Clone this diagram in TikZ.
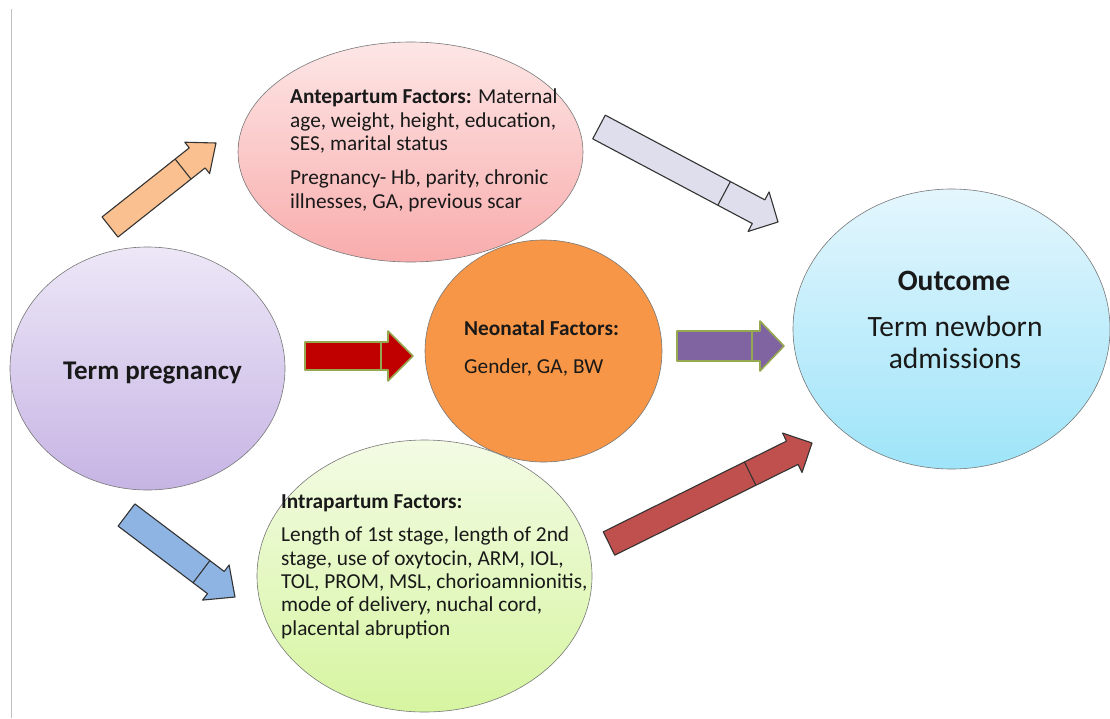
\documentclass[tikz,border=0pt]{standalone}
\usepackage{fontspec}
\setmainfont{Carlito}
\usetikzlibrary{calc,shapes.geometric}
\definecolor{txt}{RGB}{25,25,25}
\definecolor{edge}{RGB}{120,120,120}
\definecolor{termT}{RGB}{237,231,247}
\definecolor{termB}{RGB}{198,180,228}
\definecolor{anteT}{RGB}{253,230,230}
\definecolor{anteB}{RGB}{249,172,172}
\definecolor{neoF}{RGB}{247,150,70}
\definecolor{intraT}{RGB}{243,251,228}
\definecolor{intraB}{RGB}{214,245,160}
\definecolor{outT}{RGB}{228,246,253}
\definecolor{outB}{RGB}{158,228,249}
\definecolor{arOrange}{RGB}{250,192,143}
\definecolor{arGray}{RGB}{222,222,236}
\definecolor{arRed}{RGB}{192,0,0}
\definecolor{arPurple}{RGB}{128,100,162}
\definecolor{arBlue}{RGB}{142,180,227}
\definecolor{arDark}{RGB}{192,80,77}
\definecolor{glow}{RGB}{150,168,80}
\newcommand{\blockarrow}[7]{%
  \coordinate (#1-h) at ($(#2)!#5!(#1)$);
  \coordinate (#1-d) at ($(#2)!#6!(#1)$);
  \draw[#7] ($(#1)!#3!90:(#2)$) -- ($(#1-h)!#3!90:(#2)$) -- ($(#1-h)!#4!90:(#2)$) -- (#2)
     -- ($(#1-h)!#4!-90:(#2)$) -- ($(#1-h)!#3!-90:(#2)$) -- ($(#1)!#3!-90:(#2)$) -- cycle;
  \draw[#7,fill=none] ($(#1-d)!#3!90:(#2)$) -- ($(#1-d)!#3!-90:(#2)$);
}
\tikzset{
  blob/.style={ellipse, draw=edge, line width=0.6pt, inner sep=0pt},
  bodytext/.style={text=txt, font=\fontsize{21.3}{23.3}\selectfont, align=left, inner sep=0pt, anchor=base west},
  darkarrow/.style={draw=black!80, line width=1.1pt, line join=round},
  glowarrow/.style={draw=glow, line width=1.6pt, line join=round},
}
\begin{document}
\begin{tikzpicture}[x=1pt,y=-1pt]
\useasboundingbox (0,0) rectangle (1110,718);
\fill[white] (0,0) rectangle (1110,718);
\draw[black!25, line width=1pt] (11,9) -- (11,718);

% ellipses
\node[blob, top color=termT, bottom color=termB, minimum width=275pt, minimum height=243pt] (term) at (147.5,368.5) {};
\node[blob, top color=anteT, bottom color=anteB, minimum width=345pt, minimum height=220pt] (ante) at (410.5,152) {};
\node[blob, fill=neoF, minimum width=237pt, minimum height=222pt] (neo) at (543.5,351) {};
\node[blob, top color=intraT, bottom color=intraB, minimum width=335pt, minimum height=272pt] (intra) at (424.5,576) {};
\node[blob, top color=outT, bottom color=outB, minimum width=317pt, minimum height=280pt] (out) at (951.5,329) {};

% texts (base anchor = baseline of the last line)
\node[text=txt, font=\fontsize{27}{30}\selectfont\bfseries, inner sep=0pt, anchor=base] (termtxt) at (152.5,379) {Term pregnancy};
\node[bodytext] (antetxt) at (290,208) {\textbf{Antepartum Factors:} Maternal\\ age, weight, height, education,\\ SES, marital status\\[11pt] Pregnancy- Hb, parity, chronic\\ illnesses, GA, previous scar};
\node[bodytext] (neotxt) at (464,373) {\textbf{Neonatal Factors:}\\[14pt] Gender, GA, BW};
\node[bodytext] (intratxt) at (281,635) {\textbf{Intrapartum Factors:}\\[10.5pt] Length of 1st stage, length of 2nd\\ stage, use of oxytocin, ARM, IOL,\\ TOL, PROM, MSL, chorioamnionitis,\\ mode of delivery, nuchal cord,\\ placental abruption};
\node[text=txt, font=\fontsize{29.5}{30}\selectfont\bfseries, inner sep=0pt, anchor=base] (outtitle) at (954,290) {Outcome};
\node[text=txt, font=\fontsize{29.5}{31.5}\selectfont, align=center, inner sep=0pt, anchor=base] (outtxt) at (955,368) {Term newborn\\ admissions};

% arrow end points
\coordinate (oa) at (110,227);   \coordinate (oaT) at (216,143);
\coordinate (ga) at (599,127);   \coordinate (gaT) at (778,222);
\coordinate (ra) at (305,356);   \coordinate (raT) at (413,356);
\coordinate (pa) at (677,346);   \coordinate (paT) at (784,346);
\coordinate (ba) at (126.5,515); \coordinate (baT) at (235,597);
\coordinate (da) at (609,543.5); \coordinate (daT) at (812,443);

\blockarrow{oa}{oaT}{12.8pt}{20pt}{24pt}{42pt}{darkarrow, fill=arOrange}
\blockarrow{ga}{gaT}{13.4pt}{22.4pt}{22pt}{61pt}{darkarrow, fill=arGray}
\blockarrow{ra}{raT}{14pt}{25pt}{25pt}{32pt}{glowarrow, fill=arRed}
\blockarrow{pa}{paT}{15pt}{25pt}{24pt}{32pt}{glowarrow, fill=arPurple}
\blockarrow{ba}{baT}{13.9pt}{22pt}{24pt}{42pt}{darkarrow, fill=arBlue}
\blockarrow{da}{daT}{13pt}{22pt}{22pt}{69pt}{darkarrow, fill=arDark}
\end{tikzpicture}
\end{document}
